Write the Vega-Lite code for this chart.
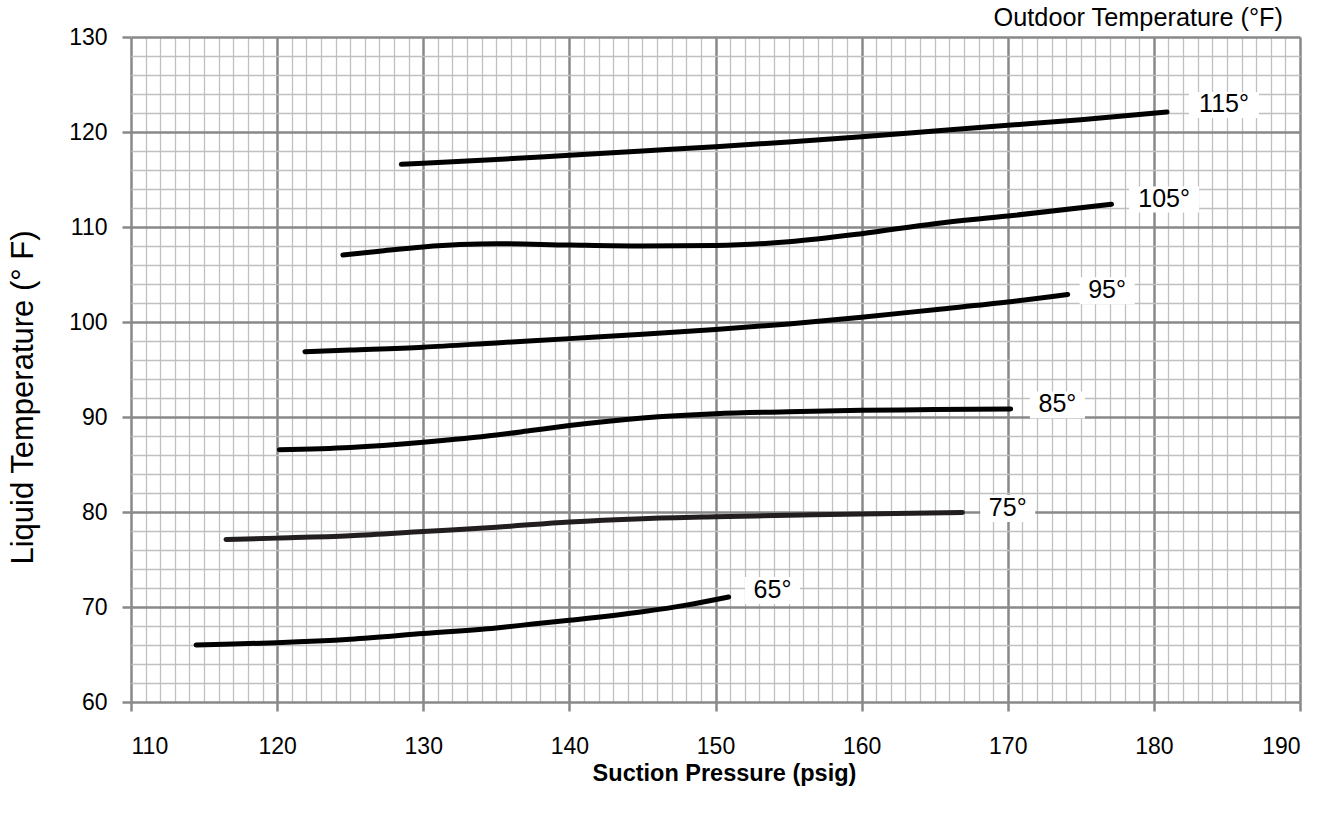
{
  "$schema": "https://vega.github.io/schema/vega-lite/v6.json",
  "width": 1169,
  "height": 665,
  "autosize": {"type": "none"},
  "padding": {"left": 131, "top": 37, "right": 41, "bottom": 118},
  "background": "white",
  "config": {"view": {"stroke": null}, "font": "Liberation Sans"},
  "datasets": {
    "curves": [
      {"t": "65°", "p": 114.45, "temp": 66.0}, {"t": "65°", "p": 117, "temp": 66.1}, {"t": "65°", "p": 120, "temp": 66.24}, {"t": "65°", "p": 125, "temp": 66.6}, {"t": "65°", "p": 130, "temp": 67.2}, {"t": "65°", "p": 135, "temp": 67.8}, {"t": "65°", "p": 137.5, "temp": 68.2}, {"t": "65°", "p": 140, "temp": 68.6}, {"t": "65°", "p": 145, "temp": 69.5}, {"t": "65°", "p": 148, "temp": 70.2}, {"t": "65°", "p": 150.9, "temp": 71.05},
      {"t": "75°", "p": 116.5, "temp": 77.1}, {"t": "75°", "p": 120, "temp": 77.25}, {"t": "75°", "p": 125, "temp": 77.5}, {"t": "75°", "p": 130, "temp": 77.95}, {"t": "75°", "p": 135, "temp": 78.4}, {"t": "75°", "p": 140, "temp": 78.95}, {"t": "75°", "p": 145, "temp": 79.3}, {"t": "75°", "p": 150, "temp": 79.5}, {"t": "75°", "p": 155, "temp": 79.65}, {"t": "75°", "p": 160, "temp": 79.8}, {"t": "75°", "p": 166.9, "temp": 79.95},
      {"t": "85°", "p": 120.15, "temp": 86.55}, {"t": "85°", "p": 125, "temp": 86.8}, {"t": "85°", "p": 130, "temp": 87.35}, {"t": "85°", "p": 135, "temp": 88.1}, {"t": "85°", "p": 137.5, "temp": 88.6}, {"t": "85°", "p": 140, "temp": 89.1}, {"t": "85°", "p": 145, "temp": 89.9}, {"t": "85°", "p": 150, "temp": 90.35}, {"t": "85°", "p": 155, "temp": 90.55}, {"t": "85°", "p": 160, "temp": 90.7}, {"t": "85°", "p": 165, "temp": 90.78}, {"t": "85°", "p": 170.2, "temp": 90.85},
      {"t": "95°", "p": 121.9, "temp": 96.87}, {"t": "95°", "p": 125, "temp": 97.05}, {"t": "95°", "p": 130, "temp": 97.35}, {"t": "95°", "p": 135, "temp": 97.8}, {"t": "95°", "p": 140, "temp": 98.25}, {"t": "95°", "p": 145, "temp": 98.7}, {"t": "95°", "p": 150, "temp": 99.2}, {"t": "95°", "p": 155, "temp": 99.8}, {"t": "95°", "p": 160, "temp": 100.5}, {"t": "95°", "p": 165, "temp": 101.3}, {"t": "95°", "p": 170, "temp": 102.1}, {"t": "95°", "p": 174.1, "temp": 102.9},
      {"t": "105°", "p": 124.5, "temp": 107.05}, {"t": "105°", "p": 127, "temp": 107.45}, {"t": "105°", "p": 130, "temp": 107.9}, {"t": "105°", "p": 132.5, "temp": 108.15}, {"t": "105°", "p": 135, "temp": 108.25}, {"t": "105°", "p": 140, "temp": 108.1}, {"t": "105°", "p": 145, "temp": 108.0}, {"t": "105°", "p": 150, "temp": 108.05}, {"t": "105°", "p": 155, "temp": 108.45}, {"t": "105°", "p": 160, "temp": 109.3}, {"t": "105°", "p": 165, "temp": 110.35}, {"t": "105°", "p": 170, "temp": 111.15}, {"t": "105°", "p": 177.1, "temp": 112.4},
      {"t": "115°", "p": 128.5, "temp": 116.6}, {"t": "115°", "p": 130, "temp": 116.7}, {"t": "115°", "p": 135, "temp": 117.1}, {"t": "115°", "p": 140, "temp": 117.55}, {"t": "115°", "p": 145, "temp": 118.0}, {"t": "115°", "p": 150, "temp": 118.45}, {"t": "115°", "p": 155, "temp": 118.95}, {"t": "115°", "p": 160, "temp": 119.5}, {"t": "115°", "p": 165, "temp": 120.1}, {"t": "115°", "p": 170, "temp": 120.7}, {"t": "115°", "p": 175, "temp": 121.3}, {"t": "115°", "p": 180.9, "temp": 122.1}
    ],
    "labels": [
      {"label": "65°", "p": 153.9, "temp": 71.84},
      {"label": "75°", "p": 170.0, "temp": 80.47},
      {"label": "85°", "p": 173.4, "temp": 91.37},
      {"label": "95°", "p": 176.8, "temp": 103.4},
      {"label": "105°", "p": 180.7, "temp": 113.0},
      {"label": "115°", "p": 184.8, "temp": 122.95}
    ],
    "heading": [
      {"text": "Outdoor Temperature (°F)", "p": 190, "temp": 130}
    ]
  },
  "layer": [
    {
      "data": {"name": "curves"},
      "mark": {"type": "line", "opacity": 0},
      "encoding": {
        "x": {"field": "p", "type": "quantitative", "scale": {"domain": [110, 190], "nice": false, "zero": false},
          "axis": {"orient": "bottom", "values": [111,112,113,114,115,116,117,118,119,121,122,123,124,125,126,127,128,129,131,132,133,134,135,136,137,138,139,141,142,143,144,145,146,147,148,149,151,152,153,154,155,156,157,158,159,161,162,163,164,165,166,167,168,169,171,172,173,174,175,176,177,178,179,181,182,183,184,185,186,187,188,189],
            "grid": true, "gridColor": "#c0c0c0", "gridWidth": 1.3, "ticks": false, "labels": false, "domain": false, "title": null}},
        "y": {"field": "temp", "type": "quantitative", "scale": {"domain": [60, 130], "nice": false, "zero": false},
          "axis": {"orient": "left", "values": [62,64,66,68,72,74,76,78,82,84,86,88,92,94,96,98,102,104,106,108,112,114,116,118,122,124,126,128],
            "grid": true, "gridColor": "#c0c0c0", "gridWidth": 1.3, "ticks": false, "labels": false, "domain": false, "title": null}}
      }
    },
    {
      "data": {"name": "curves"},
      "mark": {"type": "line", "interpolate": "monotone", "strokeWidth": 5, "strokeCap": "round", "strokeJoin": "round"},
      "encoding": {
        "x": {"field": "p", "type": "quantitative",
          "axis": {"orient": "bottom", "values": [110,120,130,140,150,160,170,180,190], "grid": true, "gridColor": "#898989", "gridWidth": 2.5,
            "domain": false, "ticks": true, "tickSize": 9, "tickWidth": 2.5, "tickColor": "#898989",
            "labelFontSize": 23, "labelColor": "black", "labelFont": "Liberation Sans", "labelPadding": 24, "labelBaseline": "top",
            "title": "Suction Pressure (psig)", "titleFont": "Liberation Sans", "titleFontSize": 23.5, "titleFontWeight": "bold", "titleColor": "black",
            "titleX": 593, "titleY": 71, "titleBaseline": "middle", "titleAlign": "center", "titleAnchor": null}},
        "y": {"field": "temp", "type": "quantitative",
          "axis": {"orient": "left", "values": [60,70,80,90,100,110,120,130], "grid": true, "gridColor": "#898989", "gridWidth": 2.5,
            "domain": false, "ticks": true, "tickSize": 9, "tickWidth": 2.5, "tickColor": "#898989",
            "labelFontSize": 23, "labelColor": "black", "labelFont": "Liberation Sans", "labelPadding": 15,
            "title": "Liquid Temperature (° F)", "titleFont": "Liberation Sans", "titleFontSize": 31, "titleFontWeight": "normal", "titleColor": "black",
            "titleX": -108, "titleY": 360, "titleBaseline": "middle", "titleAlign": "center", "titleAngle": 270, "titleAnchor": null}},
        "color": {"field": "t", "type": "nominal", "scale": {"domain": ["65°", "75°", "85°", "95°", "105°", "115°"], "range": ["#000000", "#221e1f", "#000000", "#000000", "#000000", "#000000"]}, "legend": null},
        "detail": {"field": "t"}
      }
    },
    {
      "data": {"name": "labels"},
      "mark": {"type": "point", "filled": true, "fill": "white", "opacity": 1, "strokeWidth": 0, "yOffset": 1},
      "encoding": {
        "x": {"field": "p", "type": "quantitative", "axis": null},
        "y": {"field": "temp", "type": "quantitative", "axis": null},
        "shape": {"condition": {"test": "length(datum.label) > 3", "value": "M-1,-0.371L1,-0.371L1,0.371L-1,0.371Z"}, "value": "M-1,-0.49L1,-0.49L1,0.49L-1,0.49Z"},
        "size": {"condition": {"test": "length(datum.label) > 3", "value": 4900}, "value": 3025}
      }
    },
    {
      "data": {"name": "labels"},
      "mark": {"type": "text", "font": "Liberation Sans", "fontSize": 25, "color": "black", "align": "center", "baseline": "middle"},
      "encoding": {
        "x": {"field": "p", "type": "quantitative", "axis": null},
        "y": {"field": "temp", "type": "quantitative", "axis": null},
        "text": {"field": "label"}
      }
    },
    {
      "data": {"name": "heading"},
      "mark": {"type": "text", "font": "Liberation Sans", "fontSize": 25.3, "color": "black", "align": "right", "baseline": "alphabetic", "dx": -17, "dy": -11, "clip": false},
      "encoding": {
        "x": {"field": "p", "type": "quantitative", "axis": null},
        "y": {"field": "temp", "type": "quantitative", "axis": null},
        "text": {"field": "text"}
      }
    }
  ],
  "resolve": {"axis": {"x": "independent", "y": "independent"}}
}
